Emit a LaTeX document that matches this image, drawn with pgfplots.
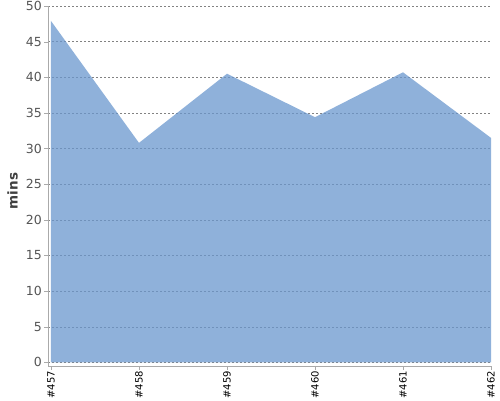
\documentclass[border=0pt]{standalone}
\usepackage{fontspec}
\setmainfont{DejaVu Sans}
\usepackage{pgfplots}
\pgfplotsset{compat=1.18}

\definecolor{areafill}{RGB}{106,151,206}
\definecolor{axisgray}{RGB}{170,170,170}
\definecolor{gridgray}{RGB}{130,130,130}
\definecolor{ticktext}{RGB}{85,85,85}

\begin{document}
\begin{tikzpicture}
\useasboundingbox (0,0) rectangle (500pt,400pt);
\begin{axis}[
    at={(48pt,34pt)}, anchor=south west,
    scale only axis,
    width=443pt, height=360pt,
    enlargelimits=false,
    xmin=-0.034, xmax=5,
    ymin=-0.5, ymax=50,
    axis x line=bottom, axis y line=left,
    axis line style={-, draw=axisgray},
    tick align=outside,
    major tick length=4pt,
    tick style={draw=axisgray},
    xtick={0,...,5},
    xticklabels={\#457,\#458,\#459,\#460,\#461,\#462},
    xticklabel style={rotate=90, anchor=east, font=\fontsize{10}{11}\selectfont, text=black, inner sep=1pt},
    ytick={0,5,...,50},
    yticklabel style={font=\fontsize{12.5}{14}\selectfont, text=ticktext, inner sep=2pt},
    /pgf/number format/assume math mode=true,
    ymajorgrids,
    grid style={dash pattern=on 2pt off 2pt, draw=gridgray, line width=0.5pt},
    ylabel={mins},
    every axis y label/.style={at={(axis description cs:-0.08,0.486)}, rotate=90, anchor=center,
        font=\bfseries\fontsize{13.5}{16}\selectfont, text=black!75},
]
\addplot[draw=none, fill=areafill, fill opacity=0.75] coordinates {
    (0,47.9) (1,30.8) (2,40.5) (3,34.4) (4,40.7) (5,31.5)
} \closedcycle;
\end{axis}
\end{tikzpicture}
\end{document}
